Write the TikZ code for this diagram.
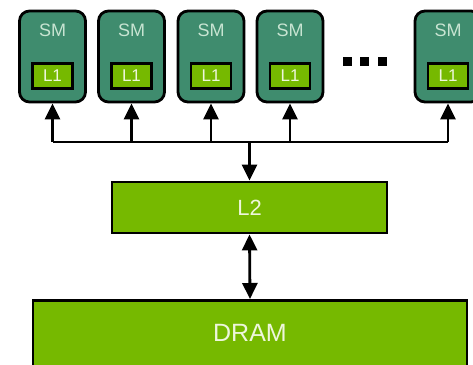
\documentclass[tikz,border=0pt]{standalone}
\usepackage{fontspec}
\setmainfont{Liberation Sans}
\usetikzlibrary{arrows.meta}
\definecolor{smgreen}{HTML}{3F8C6E}
\definecolor{nvgreen}{HTML}{76B900}
\definecolor{smtext}{HTML}{C8E4D2}
\definecolor{ltext}{HTML}{EEF6DC}
\tikzset{
  smbox/.style={draw=black, fill=smgreen, line width=2.8pt, rounded corners=10pt,
    minimum width=66pt, minimum height=91pt, inner sep=0pt},
  smlabel/.style={text=smtext, font=\fontsize{18}{18}\selectfont, inner sep=0pt},
  lonebox/.style={draw=black, fill=nvgreen, line width=2.8pt, minimum width=40pt,
    minimum height=25pt, inner sep=0pt, text=ltext, font=\fontsize{17}{17}\selectfont},
  bigbox/.style={draw=black, fill=nvgreen, line width=2.8pt, inner sep=0pt, text=ltext},
  conn/.style={line width=2.8pt, draw=black},
  arr/.style={conn, -{Triangle[length=16pt,width=15pt]}},
  darr/.style={conn, {Triangle[length=16pt,width=15pt]}-{Triangle[length=16pt,width=15pt]}},
  dotsq/.style={fill=black, minimum size=9pt, inner sep=0pt},
}
\begin{document}
\begin{tikzpicture}[x=1pt,y=-1pt]
\useasboundingbox (0,0) rectangle (473,364);
\clip (0,0) rectangle (473,364);
% SM boxes
\foreach \i/\x in {1/52.5,2/131.5,3/211,4/290,5/448}{
  \node[smbox] (sm\i) at (\x,56.5) {};
  \node[smlabel] (smt\i) at (\x,30.5) {SM};
  \node[lonebox] (lone\i) at (\x,76) {L1};
  \coordinate (b\i) at (\x,142);
}
% dots
\node[dotsq] (d1) at (347,61) {};
\node[dotsq] (d2) at (364.5,61) {};
\node[dotsq] (d3) at (382,61) {};
% L2 and DRAM
\node[bigbox, minimum width=275pt, minimum height=51pt,
  font=\fontsize{22}{22}\selectfont] (l2) at (249.5,207.5) {L2};
\node[bigbox, minimum width=434pt, minimum height=90pt, anchor=north,
  font=\fontsize{25}{25}\selectfont] (dram) at (250,299) {};
\node[text=ltext, font=\fontsize{25}{25}\selectfont, inner sep=0pt] (dramt) at (250,333) {DRAM};
% bus
\draw[conn, line cap=butt] (b1) -- (b5);
\foreach \i in {1,...,5}{
  \draw[arr] (b\i) -- (sm\i.south);
}
\coordinate (bm) at (249.5,142);
\draw[arr] (bm) -- (l2.north);
\draw[darr] (l2.south) -- (dram.north);
\end{tikzpicture}
\end{document}
